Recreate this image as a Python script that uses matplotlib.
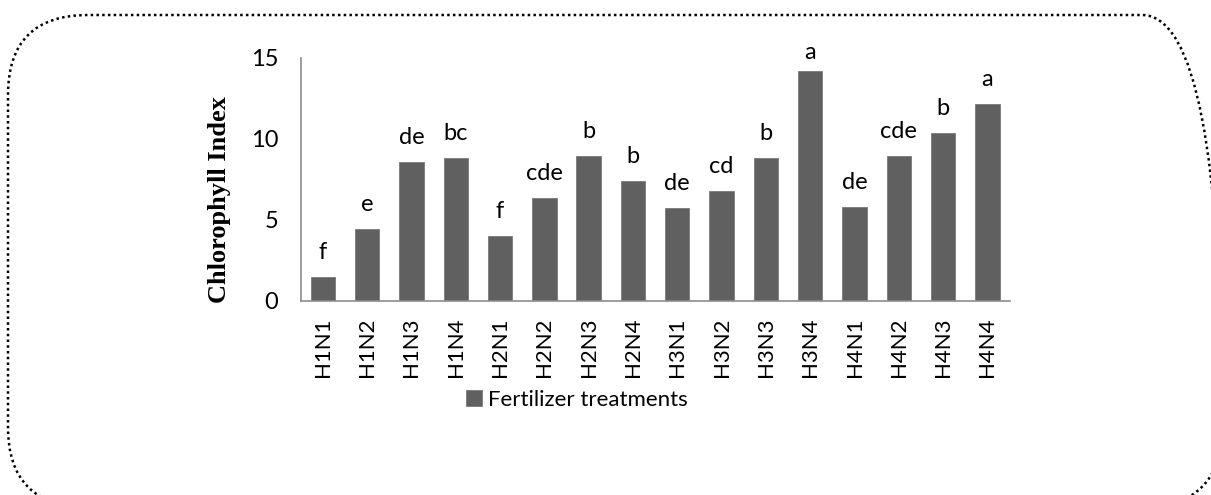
import numpy as np
import matplotlib
matplotlib.use("Agg")
import matplotlib.pyplot as plt
from matplotlib.patches import FancyBboxPatch, Patch

# # Data
treatments = ["H1N1", "H1N2", "H1N3", "H1N4", "H2N1", "H2N2", "H2N3", "H2N4",
              "H3N1", "H3N2", "H3N3", "H3N4", "H4N1", "H4N2", "H4N3", "H4N4"]
chlorophyll = [1.44, 4.42, 8.54, 8.83, 3.99, 6.36, 8.91, 7.39,
               5.70, 6.77, 8.81, 14.16, 5.78, 8.93, 10.37, 12.14]
letters = ["f", "e", "de", "bc", "f", "cde", "b", "b",
           "de", "cd", "b", "a", "de", "cde", "b", "a"]
series_name = "Fertilizer treatments"

W, H = 1211, 495
bar_color = "#606060"
axis_color = "#8c8c8c"
label_font = "Lato"

fig = plt.figure(figsize=(W / 100, H / 100), dpi=100)

# # Dotted rounded frame around the whole chart (pixel coordinates, y up)
bg = fig.add_axes([0, 0, 1, 1], zorder=0)
bg.set_xlim(0, W)
bg.set_ylim(0, H)
bg.axis("off")
frame = FancyBboxPatch((8, H - 507), 1214, 492, boxstyle="round,pad=0,rounding_size=80",
                       fill=False, edgecolor="black", linewidth=1.8,
                       linestyle=(0, (1, 1.3)), clip_on=True)
bg.add_patch(frame)

# # Bar chart
ax = fig.add_axes([300.6 / W, 1 - 300.7 / H, 709 / W, 243 / H], zorder=1)
ax.patch.set_alpha(0)
x = np.arange(len(treatments))
bars = ax.bar(x, chlorophyll, width=0.55, color=bar_color,
              edgecolor="#7a7a7a", linewidth=0.6)
ax.set_xlim(-0.5, len(treatments) - 0.5)
ax.set_ylim(0, 15)
ax.set_yticks([0, 5, 10, 15])

for xi, val, lab in zip(x, chlorophyll, letters):
    # keep the label inside the top of the chart like the original
    off = min(13, (14.95 - val) * 243 / 15 / 1.389)
    ax.annotate(lab, (xi, val), xytext=(0, off), textcoords="offset points",
                ha="center", va="baseline", fontsize=17, family=label_font)

for side in ["top", "right"]:
    ax.spines[side].set_visible(False)
for side in ["left", "bottom"]:
    ax.spines[side].set_color(axis_color)
    ax.spines[side].set_linewidth(1.2)

ax.set_xticks(x)
ax.set_xticklabels(treatments, rotation=90, fontsize=16, family=label_font)
ax.tick_params(axis="x", length=0, pad=12)
ax.tick_params(axis="y", length=0, pad=16, labelsize=17)
for t in ax.get_yticklabels():
    t.set_family(label_font)

fig.text(219 / W, 1 - 200 / H, "Chlorophyll Index", rotation=90,
         ha="center", va="center", fontsize=19, fontweight="bold",
         family="Liberation Serif")

fig.legend(handles=[Patch(facecolor=bar_color, edgecolor="#7a7a7a", linewidth=0.6,
                          label=series_name)],
           loc="center left", bbox_to_anchor=(455 / W, 1 - 400 / H),
           frameon=False, borderpad=0, handlelength=0.7, handleheight=0.7,
           handletextpad=0.3, prop={"family": label_font, "size": 16})

fig.savefig("out.png", dpi=100)
